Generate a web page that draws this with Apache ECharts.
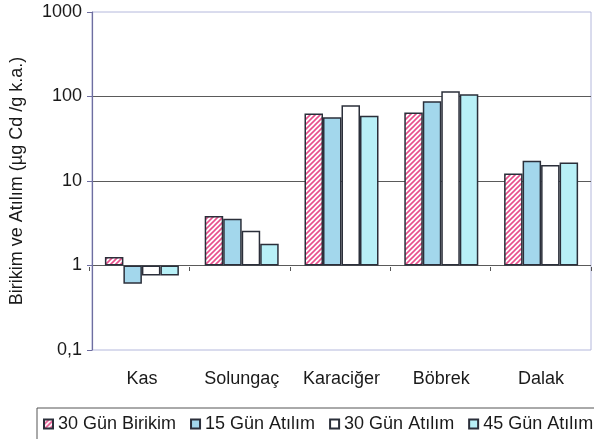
<!DOCTYPE html>
<html>
<head>
<meta charset="utf-8">
<script src="https://cdn.jsdelivr.net/npm/echarts@6/dist/echarts.min.js"></script>
<style>
html,body{margin:0;padding:0;background:#fff;}
#chart{width:594px;height:439px;}
</style>
</head>
<body>
<div id="chart"></div>
<script>
const categories = ['Kas', 'Solungaç', 'Karaciğer', 'Böbrek', 'Dalak'];
const seriesNames = ['30 Gün Birikim', '15 Gün Atılım', '30 Gün Atılım', '45 Gün Atılım'];
const birikim30 = [1.26, 3.84, 63, 64.5, 12.3];
const atilim15 = [0.61, 3.57, 57, 88, 17.4];
const atilim30 = [0.76, 2.58, 79, 115, 15.5];
const atilim45 = [0.76, 1.81, 59, 106, 16.5];
const yTickLabels = {0.1: '0,1', 1: '1', 10: '10', 100: '100', 1000: '1000'};
const yAxisTitle = 'Birikim ve Atılım (µg Cd /g k.a.)';

function hatch() {
  const c = document.createElement('canvas');
  const s = 5;
  c.width = s; c.height = s;
  const g = c.getContext('2d');
  g.fillStyle = '#ffffff';
  g.fillRect(0, 0, s, s);
  g.strokeStyle = '#e8508c';
  g.lineWidth = 1.6;
  g.beginPath();
  g.moveTo(-1, s + 1); g.lineTo(s + 1, -1);
  g.moveTo(-1, 1); g.lineTo(1, -1);
  g.moveTo(s - 1, s + 1); g.lineTo(s + 1, s - 1);
  g.stroke();
  return c;
}

const chart = echarts.init(document.getElementById('chart'), null, {renderer: 'canvas'});
const FONT = 'Liberation Sans, Arial, sans-serif';
const border = {borderColor: '#2b2f3a', borderWidth: 1.5};
const fills = [{image: hatch(), repeat: 'repeat'}, '#a3d7ec', '#ffffff', '#b8f0f7'];
const values = [birikim30, atilim15, atilim30, atilim45];

chart.setOption({
  animation: false,
  backgroundColor: '#ffffff',
  textStyle: {fontFamily: FONT, color: '#1a1a1a'},
  grid: [
    {left: 89, right: 3, top: 12, bottom: 89, show: true, borderColor: '#b4b8dc', borderWidth: 1, backgroundColor: 'transparent'},
    {left: 89, right: 3, top: 12, bottom: 172, show: false}
  ],
  legend: {
    data: seriesNames,
    left: 37, top: 408,
    width: 700,
    padding: [7, 20, 12, 6],
    itemWidth: 9, itemHeight: 9, itemGap: 14,
    borderColor: '#555', borderWidth: 1,
    textStyle: {fontFamily: FONT, fontSize: 18, color: '#1a1a1a'},
    icon: 'rect'
  },
  xAxis: [
    {type: 'category', data: categories, gridIndex: 0,
     axisLine: {show: false}, axisTick: {show: false},
     axisLabel: {interval: 0, fontFamily: FONT, fontSize: 18, color: '#1a1a1a', margin: 20}},
    {type: 'category', data: categories, gridIndex: 1, position: 'bottom',
     axisLine: {show: false}, axisTick: {show: true, length: 4, lineStyle: {color: '#555'}},
     axisLabel: {show: false}}
  ],
  yAxis: [
    {type: 'log', logBase: 10, min: 0.1, max: 1000, gridIndex: 0,
     name: yAxisTitle, nameLocation: 'middle', nameGap: 66,
     nameTextStyle: {fontFamily: FONT, fontSize: 18, color: '#1a1a1a'},
     axisLine: {show: true, lineStyle: {color: '#6e6ea0', width: 1.2}},
     axisTick: {show: true, length: 5, lineStyle: {color: '#6e6ea0'}},
     axisLabel: {fontFamily: FONT, fontSize: 18, color: '#1a1a1a', margin: 10,
       formatter: v => yTickLabels[v] !== undefined ? yTickLabels[v] : String(v).replace('.', ',')},
     splitLine: {show: true, lineStyle: {color: ['transparent', '#5a5a5a', '#5a5a5a', '#5a5a5a', 'transparent'], width: 1}}},
    {type: 'value', gridIndex: 1, show: false}
  ],
  series: values.map((arr, i) => ({
    name: seriesNames[i],
    type: 'bar',
    xAxisIndex: 0, yAxisIndex: 0,
    data: arr,
    barWidth: 18.5,
    barGap: '0%',
    itemStyle: Object.assign({color: fills[i]}, border)
  }))
});
</script>
</body>
</html>
